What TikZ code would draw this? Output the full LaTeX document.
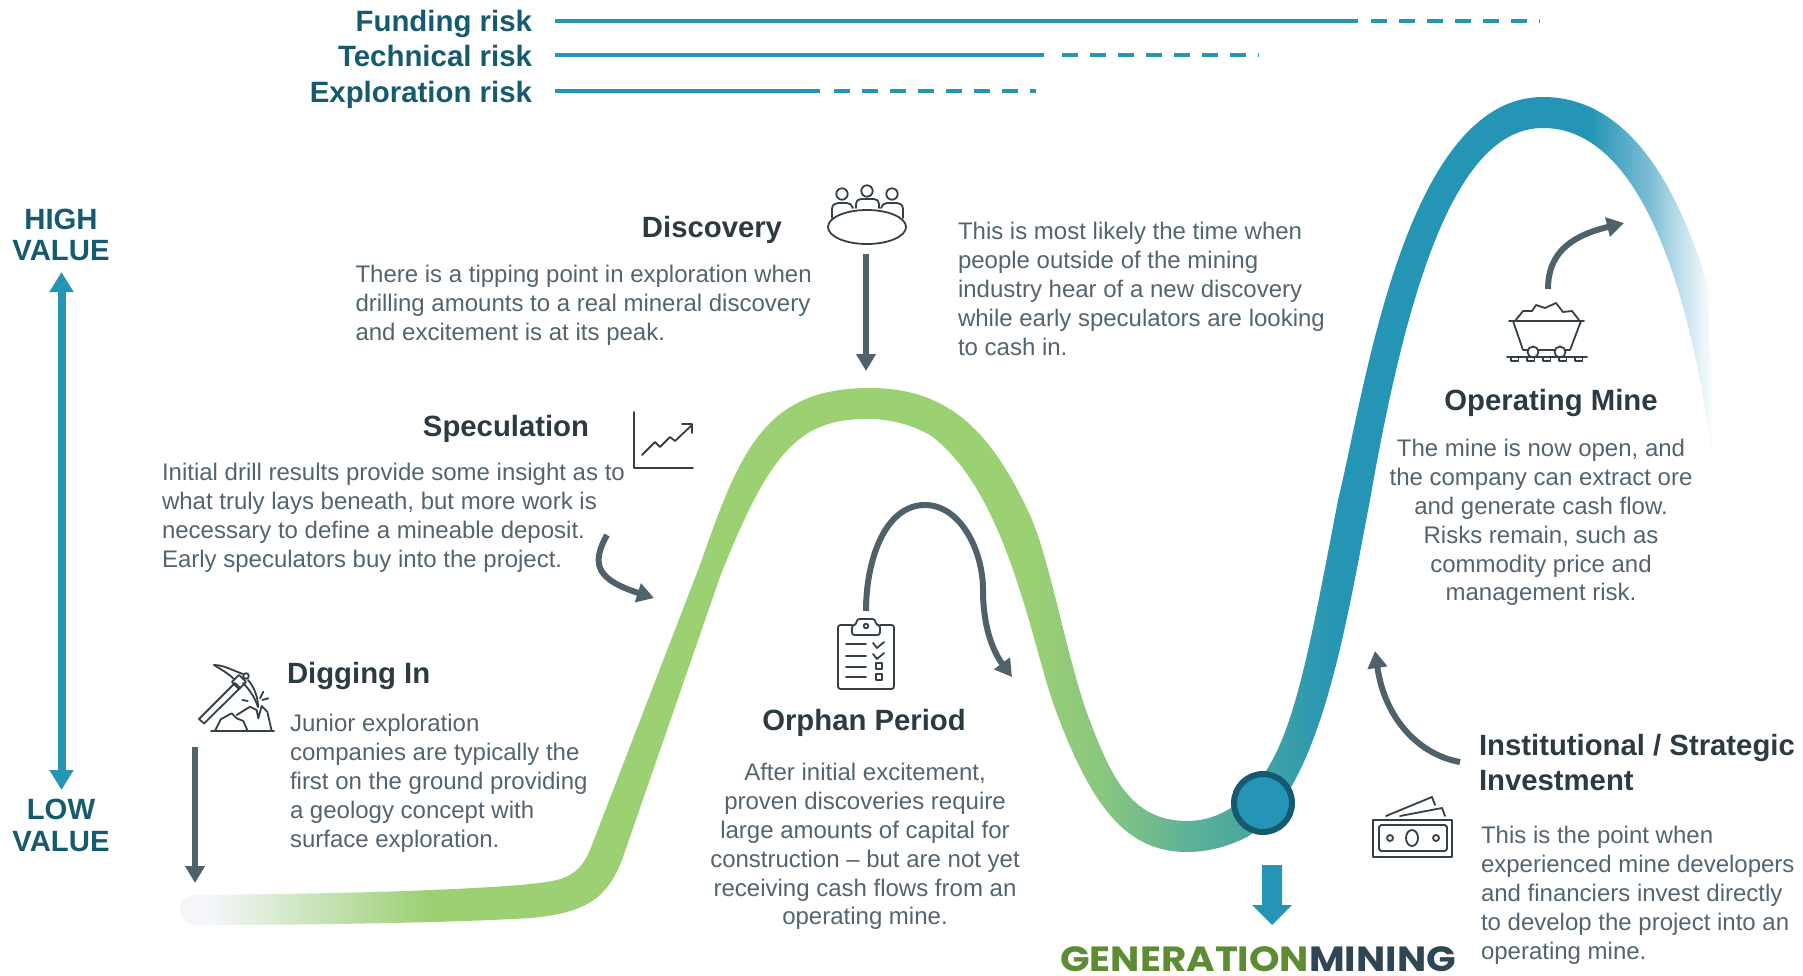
\documentclass[tikz,border=0pt]{standalone}
\usepackage{fontspec}
\setmainfont{Liberation Sans}
\newfontfamily\logofont{Poppins}
\usetikzlibrary{arrows.meta}
\definecolor{riskteal}{HTML}{2595B5}
\definecolor{labelteal}{HTML}{155A6E}
\definecolor{ringteal}{HTML}{165A71}
\definecolor{bodygray}{HTML}{53646E}
\definecolor{titledark}{HTML}{2C3A42}
\definecolor{arrowgray}{HTML}{4F616B}
\definecolor{iconink}{HTML}{343F46}
\definecolor{logogreen}{HTML}{5D8C32}
\definecolor{logodark}{HTML}{2F4654}
\definecolor{rA}{HTML}{F4F6FA}
\definecolor{rB}{HTML}{9BD073}
\definecolor{rC}{HTML}{8AC77D}
\definecolor{rD}{HTML}{5DB198}
\definecolor{rE}{HTML}{45A5A0}
\definecolor{rF}{HTML}{2E9AB0}
\definecolor{rG}{HTML}{2595B5}
\definecolor{rH}{HTML}{7CBDD4}
\definecolor{rI}{HTML}{BFDFEA}
\definecolor{rJ}{HTML}{FFFFFF}
\pgfdeclarehorizontalshading{ribbonshade}{100bp}{
 color(0bp)=(rA); color(26bp)=(rA); color(33.1bp)=(rB); color(52.6bp)=(rB);
 color(54.9bp)=(rC); color(57.8bp)=(rD); color(60.1bp)=(rE); color(61.7bp)=(rF);
 color(62.7bp)=(rG); color(70.8bp)=(rG); color(72.7bp)=(rH); color(73.7bp)=(rI);
 color(74.8bp)=(rJ); color(100bp)=(rJ)}
\tikzset{
 body/.style={font=\fontsize{24}{28.8}\selectfont,text=bodygray,inner sep=0pt,outer sep=0pt},
 titletext/.style={font=\fontsize{29.3}{35}\selectfont\bfseries,text=titledark,inner sep=0pt,outer sep=0pt},
 risklabel/.style={font=\fontsize{29.4}{34}\selectfont\bfseries,text=labelteal,inner sep=0pt,outer sep=0pt,anchor=base east},
 valuelabel/.style={font=\fontsize{29.3}{32}\selectfont\bfseries,text=labelteal,inner sep=0pt,outer sep=0pt,align=center,anchor=base},
 riskline/.style={draw=riskteal,line width=4.5pt},
 riskdash/.style={draw=riskteal,line width=4.5pt,dash pattern=on 16pt off 12pt},
 conn/.style={draw=arrowgray,line width=6pt,-{Triangle[length=17pt,width=19pt]}},
 icon/.style={draw=iconink,line width=1.8pt,line join=round,line cap=round},
}
\begin{document}
\begin{tikzpicture}[x=1pt,y=-1pt]
\useasboundingbox (0,0) rectangle (1803,976);
% ribbon
\begin{scope}
\clip (180,910) .. controls (180,902) and (187,895) .. (197,895)
 .. controls (300,894) and (430,892) .. (520,885)
 .. controls (560,881) and (577,880) .. (590,850)
 -- (700,565)
 .. controls (740,450) and (765,388) .. (870,388)
 .. controls (955,388) and (995,440) .. (1030,515)
 .. controls (1050,560) and (1065,650) .. (1087,713)
 .. controls (1110,775) and (1130,821) .. (1187,821)
 .. controls (1225,821) and (1255,795) .. (1275,755)
 .. controls (1300,705) and (1315,620) .. (1338,500)
 .. controls (1365,390) and (1405,97) .. (1543,97)
 .. controls (1630,97) and (1680,190) .. (1709,290)
 -- (1713,463)
 .. controls (1700,360) and (1660,128) .. (1543,128)
 .. controls (1460,128) and (1410,270) .. (1370,500)
 .. controls (1345,630) and (1320,790) .. (1247,837)
 .. controls (1225,848) and (1205,852) .. (1187,852)
 .. controls (1125,852) and (1090,805) .. (1053,703)
 .. controls (1030,635) and (1005,490) .. (930,435)
 .. controls (910,424) and (890,419) .. (867,419)
 .. controls (800,419) and (770,450) .. (720,577)
 -- (622,860)
 .. controls (608,895) and (590,913) .. (530,918)
 .. controls (450,923) and (300,925) .. (197,925)
 .. controls (187,925) and (180,918) .. (180,910) -- cycle;
\shade[shading=ribbonshade] (180,80) rectangle (1720,940);
\end{scope}
\node[circle,draw=ringteal,fill=riskteal,line width=6pt,minimum size=58pt,inner sep=0pt] (dot) at (1263,803) {};
% risk lines
\node[risklabel] (frisk) at (532,32) {Funding risk};
\node[risklabel] (trisk) at (532,67) {Technical risk};
\node[risklabel] (erisk) at (532,103) {Exploration risk};
\coordinate (f0) at (555,21); \coordinate (f1) at (1358,21); \coordinate (f2) at (1371,21); \coordinate (f3) at (1540,21);
\coordinate (t0) at (555,55); \coordinate (t1) at (1044,55); \coordinate (t2) at (1062,55); \coordinate (t3) at (1259,55);
\coordinate (e0) at (555,91); \coordinate (e1) at (820,91); \coordinate (e2) at (834,91); \coordinate (e3) at (1036,91);
\draw[riskline] (f0) -- (f1); \draw[riskdash] (f2) -- (f3);
\draw[riskline] (t0) -- (t1); \draw[riskdash] (t2) -- (t3);
\draw[riskline] (e0) -- (e1); \draw[riskdash] (e2) -- (e3);
% value axis
\node[valuelabel] (high) at (61,261) {HIGH\\VALUE};
\node[valuelabel] (low) at (61,851) {LOW\\VALUE};
\coordinate (vtop) at (61.5,272); \coordinate (vbot) at (61.5,790);
\draw[draw=riskteal,line width=8pt,{Triangle[length=20pt,width=23pt]}-{Triangle[length=20pt,width=23pt]}] (vtop) -- (vbot);
% titles
\node[titletext,anchor=base] (tdisc) at (712,238) {Discovery};
\node[titletext,anchor=base] (tspec) at (506,436) {Speculation};
\node[titletext,anchor=base west] (tdig) at (287,683) {Digging In};
\node[titletext,anchor=base] (torph) at (864,730) {Orphan Period};
\node[titletext,anchor=base] (toper) at (1551,410) {Operating Mine};
\node[titletext,anchor=north west,align=left] (tinst) at (1479,734) {Institutional / Strategic\\Investment};
% body text
\node[body,anchor=north west,align=left] (bdisc) at (355.5,265.5) {There is a tipping point in exploration when\\drilling amounts to a real mineral discovery\\and excitement is at its peak.};
\node[body,anchor=north west,align=left] (bdisc2) at (958,222.5) {This is most likely the time when\\people outside of the mining\\industry hear of a new discovery\\while early speculators are looking\\to cash in.};
\node[body,anchor=north west,align=left] (bspec) at (162,463.5) {Initial drill results provide some insight as to\\what truly lays beneath, but more work is\\necessary to define a mineable deposit.\\Early speculators buy into the project.};
\node[body,anchor=north west,align=left] (bdig) at (290,714.5) {Junior exploration\\companies are typically the\\first on the ground providing\\a geology concept with\\surface exploration.};
\node[body,anchor=north,align=center] (borph) at (865,763.5) {After initial excitement,\\proven discoveries require\\large amounts of capital for\\construction -- but are not yet\\receiving cash flows from an\\operating mine.};
\node[body,anchor=north,align=center] (boper) at (1541,439.5) {The mine is now open, and\\the company can extract ore\\and generate cash flow.\\Risks remain, such as\\commodity price and\\management risk.};
\node[body,anchor=north west,align=left] (binst) at (1481,826.5) {This is the point when\\experienced mine developers\\and financiers invest directly\\to develop the project into an\\operating mine.};
% connectors
\coordinate (a1s) at (195,747); \coordinate (a1e) at (195,883);
\draw[conn] (a1s) -- (a1e);
\coordinate (a2s) at (866,254); \coordinate (a2e) at (866,371);
\draw[conn] (a2s) -- (a2e);
\coordinate (a3s) at (607,535); \coordinate (a3e) at (654,598);
\draw[conn] (a3s) .. controls (590,565) and (598,580) .. (a3e);
\coordinate (a4s) at (866,611); \coordinate (a4m) at (925,505); \coordinate (a4n) at (983,590); \coordinate (a4e) at (1012,677);
\draw[conn] (a4s) .. controls (866,560) and (885,505) .. (a4m) .. controls (960,505) and (983,550) .. (a4n) .. controls (983,625) and (992,650) .. (a4e);
\coordinate (a5s) at (1548,289); \coordinate (a5e) at (1624,223);
\draw[conn] (a5s) .. controls (1548,250) and (1575,235) .. (a5e);
\coordinate (a6s) at (1460,762); \coordinate (a6e) at (1375,651);
\draw[conn] (a6s) .. controls (1420,755) and (1385,720) .. (a6e);
% teal arrow
\fill[riskteal] (1262,865) -- (1282,865) -- (1282,905) -- (1292,905) -- (1272,925) -- (1252,905) -- (1262,905) -- cycle;
% logo
\node[inner sep=0pt,anchor=base west,font=\logofont\fontsize{35}{35}\selectfont\bfseries] (logo) at (1060,971) {\scalebox{1.11}[1]{\textcolor{logogreen}{GENERATION}\textcolor{logodark}{MINING}}};
% pickaxe icon
\draw[icon] (199,719) -- (235,683) -- (240,688) -- (204,723.5) -- cycle;
\draw[icon,rotate around={45:(239,682)}] (234,677) rectangle (244,687);
\draw[icon] (246,676) circle (2.8);
\draw[icon] (214,665) .. controls (224,665) and (234,671) .. (243,674);
\draw[icon] (214,665) .. controls (222,670) and (229,674) .. (234,679);
\draw[icon] (248,680) .. controls (255,688) and (258,698) .. (258,707);
\draw[icon] (243,683) .. controls (250,690) and (255,698) .. (258,707);
\draw[icon] (211,731) -- (274,731);
\draw[icon] (215,731) -- (220.7,719.3) -- (231.7,713.3) -- (236.7,718.3) -- (243.3,721) -- (247.7,731);
\draw[icon] (236.7,715) -- (250,706.7) -- (256.7,710) -- (258.3,718.3) -- (261.7,706) -- (267.3,711.7) -- (271.7,731);
\draw[icon] (263.3,691.7) -- (260,698.3);
\draw[icon] (268.3,698.3) -- (262.3,700);
\draw[icon] (242.3,700) -- (247.7,701);
% chart icon
\draw[icon] (634,412) -- (634,468) -- (693,468);
\draw[icon] (642,455) -- (655,442) -- (660,447) -- (670,437) -- (675,441) -- (692,425);
\draw[icon] (682,424) -- (692,424) -- (692,433);
% table icon
\draw[icon] (867,227) ellipse (39 and 17);
\draw[icon] (842,194) circle (5.7);
\draw[icon] (867,191) circle (5.7);
\draw[icon] (892,194) circle (5.7);
\draw[icon] (832,218) -- (832,209) .. controls (832,205) and (835,203) .. (838,203) -- (847,203) .. controls (850,203) and (852,205) .. (853,208);
\draw[icon] (856,208) -- (856,204) .. controls (856,201) and (858,199) .. (861,199) -- (874,199) .. controls (877,199) and (879,201) .. (879,204) -- (879,208);
\draw[icon] (881,208) .. controls (882,205) and (884,203) .. (887,203) -- (897,203) .. controls (900,203) and (903,205) .. (903,209) -- (903,218);
% clipboard icon
\draw[icon,rounded corners=2.5pt] (852,625) -- (838,625) -- (838,689) -- (894,689) -- (894,625) -- (880,625);
\draw[icon,rounded corners=2.5pt] (852,635) -- (852,625) -- (856,625) -- (857,619) -- (875,619) -- (876,625) -- (880,625) -- (880,635) -- cycle;
\draw[icon] (866,626) circle (2.3);
\foreach \yy in {644,656,667,677} {\draw[icon] (846,\yy) -- (866,\yy);}
\draw[icon] (873,643) -- (877,648) -- (884,642);
\draw[icon] (873,654) -- (877,659) -- (884,653);
\draw[icon] (876,663) rectangle (882,669);
\draw[icon] (876,674) rectangle (882,680);
% mine cart icon
\draw[icon] (1509,321) -- (1584,321);
\draw[icon] (1513,321) -- (1523,350) -- (1570,350) -- (1581,321);
\draw[icon,fill=white] (1533,352) circle (5.5);
\draw[icon,fill=white] (1560,352) circle (5.5);
\draw[icon] (1507,357) -- (1587,357);
\foreach \xx in {1511,1527,1543,1559,1575} {\draw[icon,line width=1.5pt] (\xx,357) rectangle ++(7.5,4);}
\draw[icon] (1515,321) -- (1523,311) -- (1532,311) -- (1536,305) -- (1545,308) -- (1556,303) -- (1563,312) -- (1572,311) -- (1579,320);
% money icon
\draw[icon] (1373,820) rectangle (1452,857);
\draw[icon] (1381,825) -- (1445,825) -- (1447,827) -- (1447,849) -- (1445,851) -- (1381,851) -- (1379,849) -- (1379,827) -- cycle;
\draw[icon] (1412,838) ellipse (6 and 8);
\draw[icon] (1390,838) circle (3);
\draw[icon] (1436,838) circle (3);
\draw[icon] (1386,816) -- (1432,797) -- (1435,805);
\draw[icon] (1400,816) -- (1442,808) -- (1445,816);
\end{tikzpicture}
\end{document}
